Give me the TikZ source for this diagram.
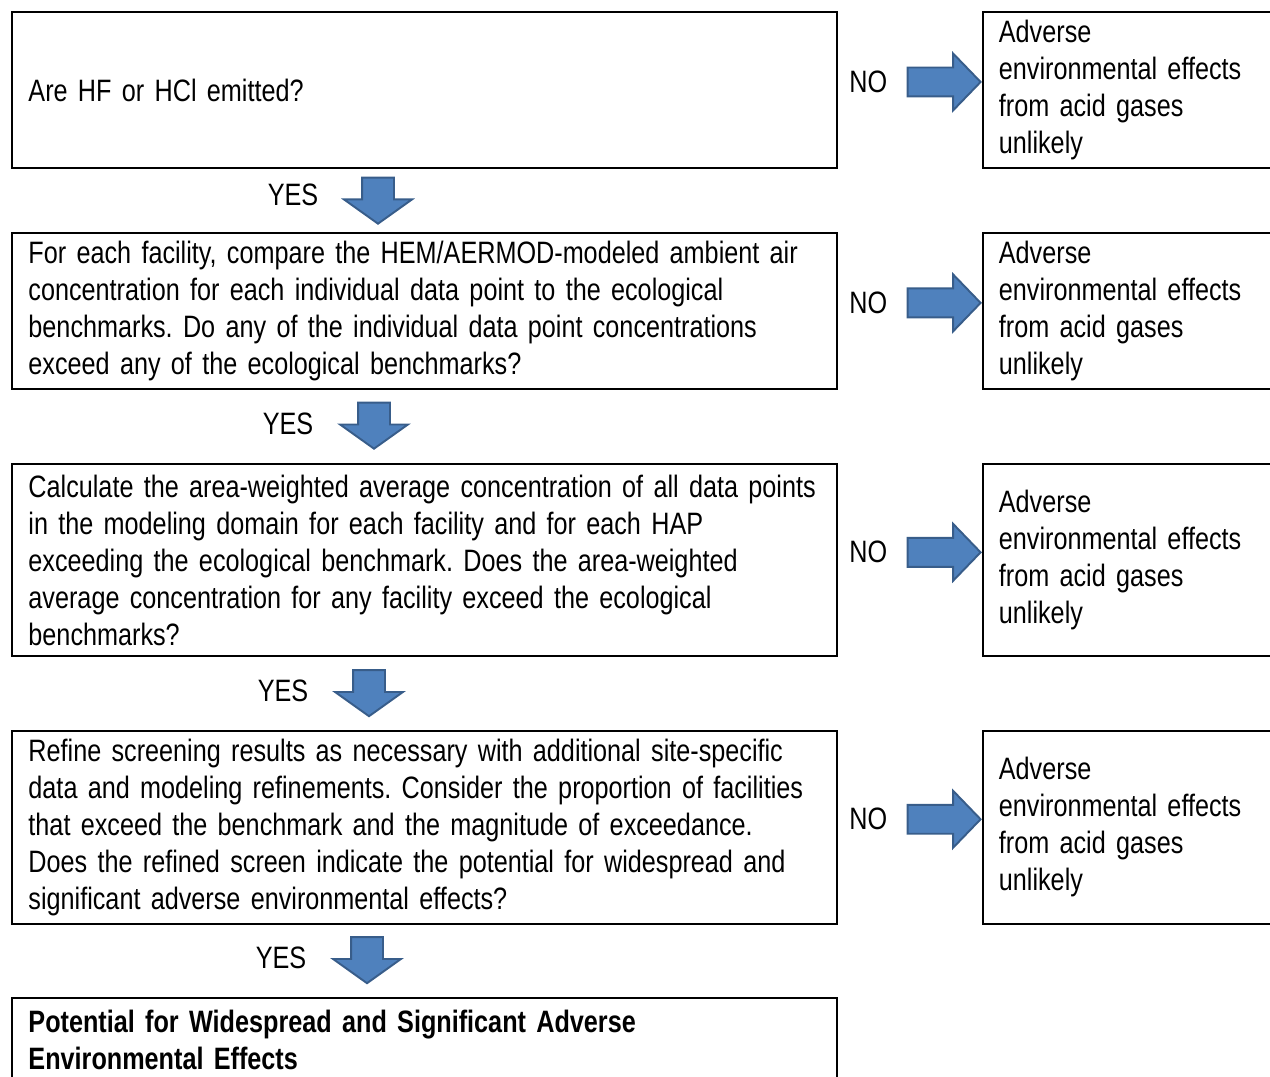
\documentclass[tikz,border=0pt]{standalone}
\usepackage{fontspec}
\setmainfont[FakeStretch=0.815]{Liberation Sans}
\usetikzlibrary{positioning, shapes.arrows}

\definecolor{arrowfill}{HTML}{4F81BD}
\definecolor{arrowline}{HTML}{385D8A}
\frenchspacing

\begin{document}
\begin{tikzpicture}[
  node distance=1.45cm and 2.88cm,
  qbox/.style={rectangle, draw, line width=1.1pt, minimum width=16.5cm,
               text width=15.84cm, inner xsep=0.33cm, align=left,
               font=\fontsize{17.6}{21}\selectfont},
  endbox/.style={rectangle, draw, line width=1.1pt, text width=6cm,
                 inner xsep=0.32cm, align=left,
                 font=\fontsize{17.6}{21}\selectfont},
  lbl/.style={inner sep=0pt, font=\fontsize{17.6}{21}\selectfont},
  rarrow/.style={single arrow, draw=arrowline, fill=arrowfill, line width=1.1pt,
                 inner sep=0.27cm, minimum height=1.46cm, minimum width=1.1cm,
                 single arrow head extend=0.28cm, single arrow tip angle=92},
  darrow/.style={rarrow, rotate=-90, inner sep=0.3cm, minimum height=0.92cm,
                 minimum width=1.34cm, single arrow head extend=0.36cm,
                 single arrow tip angle=109}
]
\useasboundingbox (0,0) rectangle (25.4,-21.54);
\clip (0,0) rectangle (25.4,-21.54);

% questions
\node[qbox, minimum height=3.12cm, anchor=north west] (q1) at (0.22,-0.22)
  {Are HF or HCl emitted?};
\node[qbox, minimum height=3.12cm, below=1.26cm of q1] (q2)
  {For each facility, compare the HEM/AERMOD-modeled ambient air\\
   concentration for each individual data point to the ecological\\
   benchmarks. Do any of the individual data point concentrations\\
   exceed any of the ecological benchmarks?};
\node[qbox, minimum height=3.84cm, below=1.47cm of q2] (q3)
  {Calculate the area-weighted average concentration of all data points\\
   in the modeling domain for each facility and for each HAP\\
   exceeding the ecological benchmark. Does the area-weighted\\
   average concentration for any facility exceed the ecological\\
   benchmarks?};
\node[qbox, minimum height=3.86cm, below=of q3] (q4)
  {Refine screening results as necessary with additional site-specific\\
   data and modeling refinements. Consider the proportion of facilities\\
   that exceed the benchmark and the magnitude of exceedance.\\
   Does the refined screen indicate the potential for widespread and\\
   significant adverse environmental effects?};
\node[qbox, below=of q4, inner ysep=0.24cm, text depth=2cm] (q5)
  {\bfseries Potential for Widespread and Significant Adverse\\
   Environmental Effects};

% outcomes
\node[endbox, minimum height=3.12cm, right=of q1] (r1)
  {Adverse\\environmental effects\\from acid gases\\unlikely};
\node[endbox, minimum height=3.12cm, right=of q2] (r2)
  {Adverse\\environmental effects\\from acid gases\\unlikely};
\node[endbox, minimum height=3.84cm, right=of q3] (r3)
  {Adverse\\environmental effects\\from acid gases\\unlikely};
\node[endbox, minimum height=3.86cm, right=of q4] (r4)
  {Adverse\\environmental effects\\from acid gases\\unlikely};

% NO arrows
\node[rarrow, left=0pt of r1, yshift=0.16cm] (na1) {};
\node[rarrow, left=0pt of r2, yshift=0.16cm] (na2) {};
\node[rarrow, left=0pt of r3, yshift=0.16cm] (na3) {};
\node[rarrow, left=0pt of r4, yshift=0.16cm] (na4) {};
\node[lbl, left=0.38cm of na1] (n1) {NO};
\node[lbl, left=0.38cm of na2] (n2) {NO};
\node[lbl, left=0.38cm of na3] (n3) {NO};
\node[lbl, left=0.38cm of na4] (n4) {NO};

% YES arrows
\node[darrow] (ya1) at (7.56,-3.9) {};
\node[darrow] (ya2) at (7.48,-8.4) {};
\node[darrow] (ya3) at (7.38,-13.75) {};
\node[darrow] (ya4) at (7.34,-19.09) {};
\node[lbl] (y1) at (5.86,-3.9) {YES};
\node[lbl] (y2) at (5.76,-8.48) {YES};
\node[lbl] (y3) at (5.66,-13.82) {YES};
\node[lbl] (y4) at (5.62,-19.16) {YES};
\end{tikzpicture}
\end{document}
